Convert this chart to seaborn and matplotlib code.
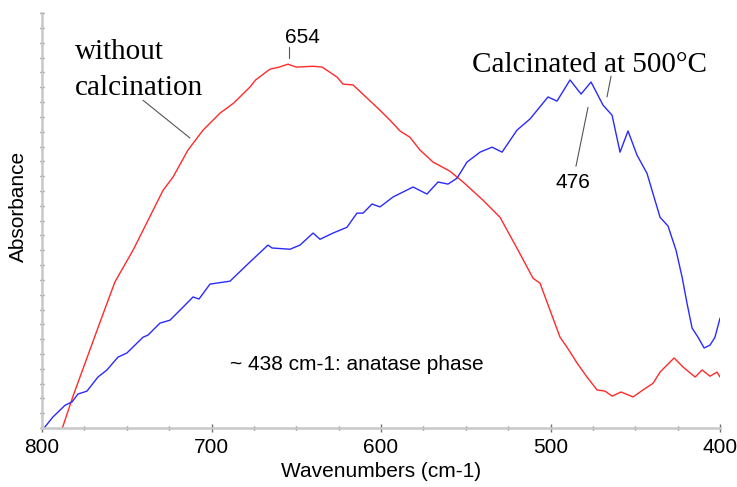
import matplotlib
matplotlib.use("Agg")
import matplotlib.pyplot as plt
from matplotlib.ticker import MultipleLocator
import seaborn as sns
import pandas as pd

# FTIR spectra, absorbance in arbitrary units (0 = bottom of plot, 1 = top)
wn_raw = [790, 788, 781.7, 765.8, 757, 746, 728.6, 722.7, 713.9, 705, 695, 687, 677.3, 674,
          665.5, 660, 654.9, 650, 640, 634.7, 626, 622.4, 616.5, 600.6, 594.7, 588.8, 583,
          577, 569.3, 559.3, 551.6, 539.8, 529.8, 519.2, 510.3, 506.2, 500.3, 494.4, 490.3,
          484.4, 478.5, 472.6, 467.8, 463.7, 458.4, 451.3, 445.4, 439.5, 435.4, 427.1, 421.8,
          414.7, 410.6, 405.9, 401.8, 400]
abs_raw = [-0.02, 0.0, 0.077, 0.255, 0.352, 0.431, 0.573, 0.605, 0.670, 0.718, 0.759, 0.783,
           0.822, 0.839, 0.865, 0.870, 0.877, 0.870, 0.872, 0.870, 0.846, 0.829, 0.827, 0.766,
           0.742, 0.716, 0.701, 0.670, 0.641, 0.619, 0.593, 0.549, 0.508, 0.429, 0.361, 0.349,
           0.284, 0.219, 0.195, 0.157, 0.123, 0.092, 0.089, 0.077, 0.087, 0.075, 0.092, 0.108,
           0.135, 0.169, 0.147, 0.123, 0.140, 0.125, 0.135, 0.123]

wn_calc = [800, 798.8, 793.5, 786.4, 782.3, 778.8, 773.5, 767, 761.7, 755.2, 749.9, 740.4,
           737.5, 730.4, 724.5, 717.4, 710.9, 707.4, 700.9, 689.1, 677.9, 666.7, 664.3, 653.7,
           647.8, 640.1, 636, 628.3, 620.1, 614.2, 610.6, 605.3, 600.6, 592.9, 581.1, 572.9,
           566.4, 560.5, 555.2, 549.3, 541.6, 534.5, 528.6, 519.8, 512.1, 501.5, 496.2, 488.5,
           482, 476.1, 469, 463.7, 459, 454.3, 449, 443.1, 435.4, 430.7, 426, 422.4, 419.5,
           416.5, 413, 409.4, 405.9, 403, 400]
abs_calc = [-0.003, 0.0, 0.027, 0.055, 0.063, 0.082, 0.089, 0.123, 0.140, 0.171, 0.181, 0.219,
            0.224, 0.253, 0.260, 0.289, 0.316, 0.311, 0.347, 0.354, 0.398, 0.441, 0.434, 0.431,
            0.441, 0.470, 0.455, 0.470, 0.484, 0.518, 0.518, 0.540, 0.533, 0.557, 0.581, 0.564,
            0.593, 0.588, 0.602, 0.641, 0.665, 0.677, 0.665, 0.718, 0.745, 0.798, 0.788, 0.839,
            0.805, 0.834, 0.778, 0.754, 0.665, 0.716, 0.658, 0.614, 0.508, 0.487, 0.429, 0.364,
            0.301, 0.241, 0.219, 0.193, 0.200, 0.219, 0.265]

sns.set_style("white")
plt.rcParams['font.family'] = ['Liberation Sans', 'DejaVu Sans']
plt.rcParams['text.color'] = 'black'
plt.rcParams['axes.labelcolor'] = 'black'

df_raw = pd.DataFrame({'wn': wn_raw, 'absorbance': abs_raw})
df_calc = pd.DataFrame({'wn': wn_calc, 'absorbance': abs_calc})

fig = plt.figure(figsize=(7.37, 4.87), dpi=100)
ax = fig.add_axes([0.057, 0.121, 0.920, 0.852])

sns.lineplot(data=df_raw, x='wn', y='absorbance', color='#ff2a2a', lw=1.0,
             sort=False, estimator=None, ax=ax)
sns.lineplot(data=df_calc, x='wn', y='absorbance', color='#2a2aff', lw=1.0,
             sort=False, estimator=None, ax=ax)

ax.set_xlim(800, 400)
ax.set_ylim(0, 1)

for side in ['top', 'right']:
    ax.spines[side].set_visible(False)
for side in ['left', 'bottom']:
    ax.spines[side].set_color('#c8c8c8')
    ax.spines[side].set_linewidth(1.8)

ax.xaxis.set_major_locator(MultipleLocator(100))
ax.xaxis.set_minor_locator(MultipleLocator(25))
ax.yaxis.set_major_locator(MultipleLocator(1 / 28))
ax.tick_params(axis='x', which='major', bottom=True, direction='inout', length=6, width=1,
               color='#707070', labelsize=15, labelcolor='black', pad=4)
ax.tick_params(axis='x', which='minor', bottom=True, direction='inout', length=3, width=1,
               color='#707070')
ax.tick_params(axis='y', which='major', left=True, direction='inout', length=3, width=1,
               color='#707070', labelleft=False)

ax.set_xlabel('Wavenumbers (cm-1)', fontsize=15, labelpad=4)
ax.set_ylabel('Absorbance', fontsize=15)
ax.yaxis.set_label_coords(-0.021, 0.535)

serif = ['Liberation Serif', 'DejaVu Serif']
lead = dict(color='#555555', lw=0.8)

ax.text(780.5, 0.889, 'without', family=serif, fontsize=21, ha='left', va='baseline')
ax.text(780.5, 0.802, 'calcination', family=serif, fontsize=21, ha='left', va='baseline')
ax.plot([740.4, 712.7], [0.790, 0.699], **lead)

ax.text(646.6, 0.928, '654', fontsize=15, ha='center', va='baseline')
ax.plot([654.3, 654.3], [0.918, 0.892], **lead)

ax.text(546.3, 0.858, 'Calcinated at 500°C', family=serif, fontsize=21, ha='left', va='baseline')
ax.plot([464.3, 466.7], [0.848, 0.798], **lead)

ax.text(486.7, 0.578, '476', fontsize=15, ha='center', va='baseline')
ax.plot([477.9, 485.0], [0.773, 0.631], **lead)

ax.text(689.1, 0.140, '~ 438 cm-1: anatase phase', fontsize=15, ha='left', va='baseline')

fig.savefig('out.png', dpi=100)
